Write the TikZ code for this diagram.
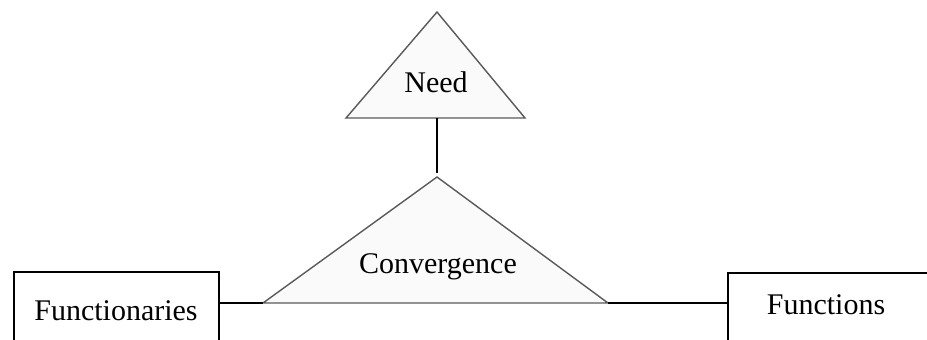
\documentclass[tikz,border=0pt]{standalone}
\usepackage{fontspec}
\setmainfont{Liberation Serif}
\begin{document}
\begin{tikzpicture}[x=1pt,y=-1pt,
  tri/.style={draw=black!65,line width=1.4pt,fill=black!2,line join=miter},
  boxline/.style={draw=black,line width=2.2pt},
  conn/.style={draw=black,line width=2.2pt},
  lbl/.style={font=\fontsize{30}{36}\selectfont,anchor=base,inner sep=0pt}]
\useasboundingbox (0,0) rectangle (927,340);
\clip (0,0) rectangle (927,340);
% Need triangle
\coordinate (needtop) at (437,12);
\coordinate (needbl) at (346,118);
\coordinate (needbr) at (525,118);
\coordinate (needbase) at (437,118);
\draw[tri] (needtop) -- (needbr) -- (needbl) -- cycle;
\node[lbl] (need) at (436,92) {Need};
% Convergence triangle
\coordinate (contop) at (437,177);
\coordinate (conbl) at (263,303);
\coordinate (conbr) at (608,303);
\draw[tri] (contop) -- (conbr) -- (conbl) -- cycle;
\node[lbl] (conv) at (438,273) {Convergence};
% Boxes
\draw[boxline] (14,345) -- (14,272) -- (219,272) -- (219,345);
\coordinate (fnrs) at (219,303);
\node[lbl] (functionaries) at (116,320) {Functionaries};
\draw[boxline] (728,345) -- (728,273) -- (930,273);
\coordinate (fns) at (728,303);
\node[lbl] (functions) at (826,314) {Functions};
% Connectors
\draw[conn] (needbase) -- (437,173);
\draw[conn] (fnrs) -- (conbl);
\draw[conn] (conbr) -- (fns);
\end{tikzpicture}
\end{document}
